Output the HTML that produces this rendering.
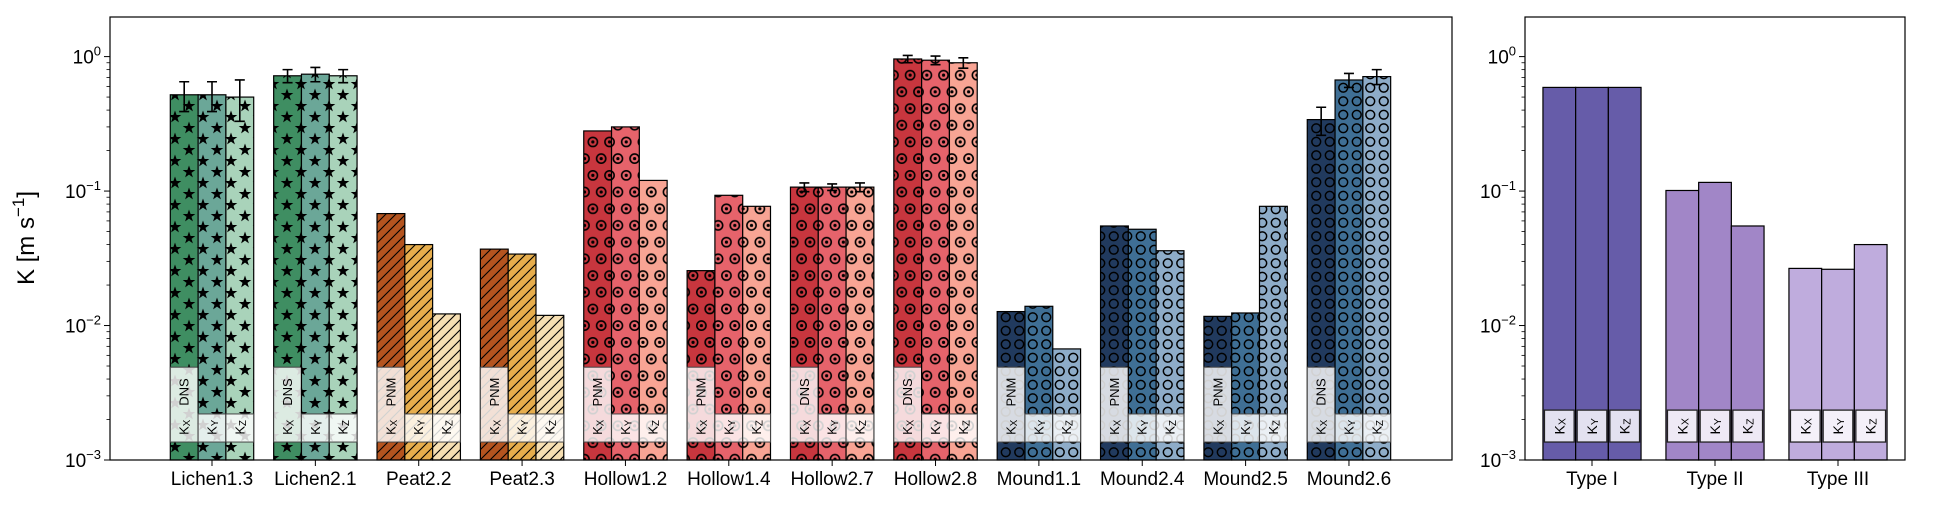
<!DOCTYPE html>
<html><head><meta charset="utf-8">
<style>
html,body{margin:0;padding:0;background:#fff;}
svg{display:block;font-family:"Liberation Sans","DejaVu Sans",sans-serif;}
</style></head>
<body>
<svg id="chart" width="1943" height="505" viewBox="0 0 1943 505" xmlns="http://www.w3.org/2000/svg">
<defs>
  <pattern id="p-star" patternUnits="userSpaceOnUse" width="28" height="22">
    <polygon points="7,0.5 8.6,5 13.3,5 9.5,7.9 10.9,12.4 7,9.6 3.1,12.4 4.5,7.9 0.7,5 5.4,5" fill="#000"/>
    <polygon points="21,11.5 22.6,16 27.3,16 23.5,18.9 24.9,23.4 21,20.6 17.1,23.4 18.5,18.9 14.7,16 19.4,16" fill="#000"/>
    <polygon points="21,-10.5 22.6,-6 27.3,-6 23.5,-3.1 24.9,1.4 21,-1.4 17.1,1.4 18.5,-3.1 14.7,-6 19.4,-6" fill="#000"/>
  </pattern>
  <pattern id="p-slash" patternUnits="userSpaceOnUse" width="10" height="10">
    <path d="M-2,12 L12,-2 M-2,2 L2,-2 M8,12 L12,8" stroke="#000" stroke-width="1.1"/>
  </pattern>
  <pattern id="p-bull" patternUnits="userSpaceOnUse" width="16.7" height="33.4">
    <circle cx="8.35" cy="8.35" r="4.6" fill="none" stroke="#000" stroke-width="1.6"/>
    <circle cx="8.35" cy="8.35" r="1.6" fill="#000"/>
    <circle cx="0" cy="25" r="4.6" fill="none" stroke="#000" stroke-width="1.6"/>
    <circle cx="0" cy="25" r="1.6" fill="#000"/>
    <circle cx="16.7" cy="25" r="4.6" fill="none" stroke="#000" stroke-width="1.6"/>
    <circle cx="16.7" cy="25" r="1.6" fill="#000"/>
  </pattern>
  <pattern id="p-ring" patternUnits="userSpaceOnUse" width="13.5" height="13.5">
    <circle cx="6.75" cy="6.75" r="4.4" fill="none" stroke="#000" stroke-width="1.5"/>
  </pattern>
</defs>
<g id="left"></g>
<g id="right"></g>
</svg>
<script>
// ---- data (left panel) ----
const categories = ["Lichen1.3","Lichen2.1","Peat2.2","Peat2.3","Hollow1.2","Hollow1.4","Hollow2.7","Hollow2.8","Mound1.1","Mound2.4","Mound2.5","Mound2.6"];
const kxValues = [0.52,0.72,0.068,0.037,0.28,0.0256,0.107,0.96,0.0127,0.055,0.0117,0.34];
const kyValues = [0.52,0.74,0.040,0.034,0.30,0.093,0.107,0.94,0.0139,0.052,0.0124,0.67];
const kzValues = [0.50,0.72,0.0122,0.0119,0.12,0.077,0.107,0.90,0.0067,0.036,0.077,0.71];
const kxErr = [0.13,0.08,0,0,0,0,0.008,0.06,0,0,0,0.08];
const kyErr = [0.13,0.09,0,0,0,0,0.006,0.07,0,0,0,0.08];
const kzErr = [0.17,0.08,0,0,0,0,0.008,0.08,0,0,0,0.09];
const methods = ["DNS","DNS","PNM","PNM","PNM","PNM","DNS","DNS","PNM","PNM","PNM","DNS"];
// ---- data (right panel) ----
const typeCategories = ["Type I","Type II","Type III"];
const typeKx = [0.59,0.101,0.0266];
const typeKy = [0.59,0.116,0.0262];
const typeKz = [0.59,0.055,0.040];
const yTickExps = [0,-1,-2,-3];

const NS="http://www.w3.org/2000/svg";
function mk(parent,tag,attrs){const e=document.createElementNS(NS,tag);for(const k in attrs)e.setAttribute(k,attrs[k]);parent.appendChild(e);return e;}

const yTop=17, yBot=460;
const logMin=-3, logMax=Math.log10(1.97);
function yScale(v){return yBot-(Math.log10(v)-logMin)/(logMax-logMin)*(yBot-yTop);}

const groupStyles={
  Lichen:{colors:["#3f8e62","#6ba798","#a9d3ba"],pat:"p-star"},
  Peat:{colors:["#b4541f","#e6ad4c","#f6dfb2"],pat:"p-slash"},
  Hollow:{colors:["#c8363e","#e6636b","#f8a494"],pat:"p-bull"},
  Mound:{colors:["#213a5e","#3f6f95","#8eacc8"],pat:"p-ring"}
};
const svg=document.getElementById('chart');

function yAxis(g,x0){
  for(let e=-3;e<=0;e++){
    for(let m=2;m<=9;m++){
      const v=m*Math.pow(10,e); if(v>1.97)continue;
      const t=mk(g,'line',{x1:x0-3.5,x2:x0,y1:yScale(v),y2:yScale(v),stroke:'#000','stroke-width':0.8});
      
      
    }
  }
  yTickExps.forEach(e=>{
    const y=yScale(Math.pow(10,e));
    const t=mk(g,'line',{x1:x0-6,x2:x0,y1:y,y2:y,stroke:'#000','stroke-width':1});
    
    
    const tx=mk(g,'text',{x:x0-9,y:y+7,'text-anchor':'end','font-size':19});
    
    
    tx.appendChild(document.createTextNode('10'));
    const sup=mk(tx,'tspan',{dy:-8,'font-size':13});
    sup.textContent=(e<0?'\u2212'+(-e):'0');
  });
}

function labelText(g,x,y,main,sub,size){
  const t=mk(g,'text',{x:x,y:y,transform:`rotate(-90 ${x} ${y})`,'text-anchor':'middle','dominant-baseline':'central','font-size':size});
  
  
  t.appendChild(document.createTextNode(main));
  if(sub){const s=mk(t,'tspan',{'font-size':size*0.75,dy:3});s.textContent=sub;}
  return t;
}

// ---- left panel ----
(function(){
  const g=document.getElementById('left');
  
  
  const x0=110,x1=1452;
  const c0=212, step=103.36, bw=27.8;
  const series=[kxValues,kyValues,kzValues], errs=[kxErr,kyErr,kzErr], subs=["X","Y","Z"];
  categories.forEach((cat,i)=>{
    const st=groupStyles[cat.replace(/[0-9.]/g,'')];
    const cx=c0+i*step;
    const grp=mk(g,'g',{});
    
    
    for(let s=0;s<3;s++){
      const bx=cx-1.5*bw+s*bw, v=series[s][i], y=yScale(v);
      const r=mk(grp,'rect',{x:bx,y:y,width:bw,height:yBot-y,fill:st.colors[s]});
      
      
      const h=mk(grp,'rect',{x:bx,y:y,width:bw,height:yBot-y,fill:`url(#${st.pat})`,stroke:'#000','stroke-width':1.2});
      
      
      // label boxes
      const top=s===0?0.0049:0.0022;
      const by=yScale(top), bb=yScale(0.00136);
      const b=mk(grp,'rect',{x:bx,y:by,width:bw,height:bb-by,fill:'#fff','fill-opacity':0.82,stroke:'#444','stroke-width':1});
      
      
      labelText(grp,bx+bw/2,yScale(0.00175),'K',subs[s],13);
      if(s===0) labelText(grp,bx+bw/2,yScale(0.0032),methods[i],null,13);
      const e=errs[s][i];
      if(e>0){
        const ya=yScale(v+e), yb=yScale(Math.max(v-e,1e-3));
        const ex=bx+bw/2;
        const eb=mk(grp,'path',{d:`M${ex},${ya}V${yb}M${ex-5},${ya}H${ex+5}M${ex-5},${yb}H${ex+5}`,stroke:'#000','stroke-width':1.6,fill:'none'});
        
        
      }
    }
    const tk=mk(g,'line',{x1:cx,x2:cx,y1:yBot,y2:yBot+6,stroke:'#000'});
    
    
    const tl=mk(g,'text',{x:cx,y:yBot+25,'text-anchor':'middle','font-size':19});
    
    
    tl.textContent=cat;
  });
  const fr=mk(g,'rect',{x:x0,y:yTop,width:x1-x0,height:yBot-yTop,fill:'none',stroke:'#000','stroke-width':1.2});
  
  
  yAxis(g,x0);
  const yl=mk(g,'text',{x:34,y:238,transform:'rotate(-90 34 238)','text-anchor':'middle','font-size':24});
  
  
  yl.appendChild(document.createTextNode('K [m s'));
  const sp=mk(yl,'tspan',{dy:-10,'font-size':17});sp.textContent='\u22121';
  const sp2=mk(yl,'tspan',{dy:10});sp2.textContent=']';
})();

// ---- right panel ----
(function(){
  const g=document.getElementById('right');
  
  
  const x0=1525,x1=1905;
  const c0=1592, step=123, bw=32.7;
  const colors=["#665ca9","#a186c7","#bfacdd"];
  const series=[typeKx,typeKy,typeKz], subs=["X","Y","Z"];
  typeCategories.forEach((cat,i)=>{
    const cx=c0+i*step;
    for(let s=0;s<3;s++){
      const bx=cx-1.5*bw+s*bw, y=yScale(series[s][i]);
      const r=mk(g,'rect',{x:bx,y:y,width:bw,height:yBot-y,fill:colors[i],stroke:'#000','stroke-width':1.2});
      
      
      const by=yScale(0.00235), bb=yScale(0.00136);
      const b=mk(g,'rect',{x:bx+1.5,y:by,width:bw-3,height:bb-by,fill:'#fff','fill-opacity':0.82,stroke:'#222','stroke-width':1.3});
      
      
      labelText(g,bx+bw/2,yScale(0.00178),'K',subs[s],14);
    }
    const tk=mk(g,'line',{x1:cx,x2:cx,y1:yBot,y2:yBot+6,stroke:'#000'});
    
    
    const tl=mk(g,'text',{x:cx,y:yBot+25,'text-anchor':'middle','font-size':19});
    
    
    tl.textContent=cat;
  });
  const fr=mk(g,'rect',{x:x0,y:yTop,width:x1-x0,height:yBot-yTop,fill:'none',stroke:'#000','stroke-width':1.2});
  
  
  yAxis(g,x0);
})();
</script>
</body></html>
